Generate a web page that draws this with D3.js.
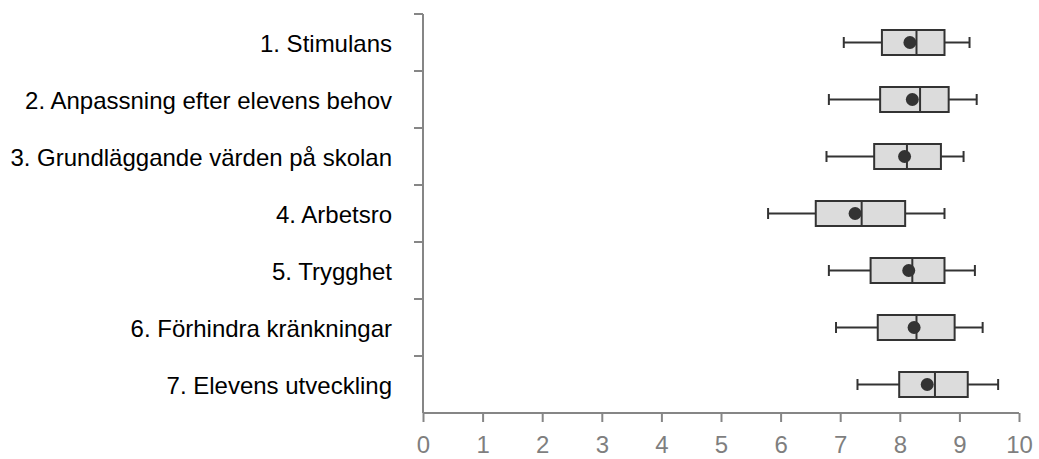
<!DOCTYPE html>
<html lang="sv">
<head>
    <meta charset="UTF-8">
    <title>Boxplot</title>
    <script src="https://d3js.org/d3.v7.min.js"></script>
    <style>
        body { margin: 0; background: #fff; }
        .cat-label { font: 24px "Liberation Sans", Arial, sans-serif; fill: #000; }
        .x-axis text { font: 24px "Liberation Sans", Arial, sans-serif; fill: #7f7f7f; }
        .axis-line { stroke: #868686; stroke-width: 2; }
        .box { fill: #dcdcdc; stroke: #333; stroke-width: 2; }
        .whisker { stroke: #333; stroke-width: 2; }
        .mean { fill: #333; }
    </style>
</head>
<body>
<svg width="1039" height="459"></svg>
<script>
    // data
    const categories = [
        "1. Stimulans",
        "2. Anpassning efter elevens behov",
        "3. Grundläggande värden på skolan",
        "4. Arbetsro",
        "5. Trygghet",
        "6. Förhindra kränkningar",
        "7. Elevens utveckling"
    ];
    const whiskerLow  = [7.06, 6.81, 6.77, 5.79, 6.81, 6.93, 7.29];
    const q1          = [7.70, 7.67, 7.57, 6.59, 7.51, 7.63, 7.99];
    const median      = [8.28, 8.34, 8.12, 7.36, 8.21, 8.28, 8.59];
    const q3          = [8.75, 8.82, 8.69, 8.09, 8.75, 8.92, 9.14];
    const whiskerHigh = [9.17, 9.29, 9.07, 8.75, 9.26, 9.39, 9.65];
    const means       = [8.17, 8.21, 8.08, 7.25, 8.15, 8.24, 8.46];
    const xTicks = [0, 1, 2, 3, 4, 5, 6, 7, 8, 9, 10];

    const rows = categories.map((c, i) => ({
        name: c, lo: whiskerLow[i], q1: q1[i], med: median[i],
        q3: q3[i], hi: whiskerHigh[i], mean: means[i]
    }));

    const svg = d3.select("svg");

    const x = d3.scaleLinear().domain([0, 10]).range([423, 1019]);
    const y = d3.scaleBand().domain(categories).range([14, 413]);

    const boxH = 25, capH = 11;

    // y axis line + ticks at band edges
    svg.append("line").attr("class", "axis-line")
        .attr("x1", x(0)).attr("x2", x(0))
        .attr("y1", y.range()[0]).attr("y2", y.range()[1]);
    svg.append("g").selectAll("line")
        .data(categories)
        .enter().append("line")
        .attr("class", "axis-line")
        .attr("x1", x(0) - 9).attr("x2", x(0))
        .attr("y1", d => y(d)).attr("y2", d => y(d));

    // category labels
    svg.append("g").selectAll("text")
        .data(categories)
        .enter().append("text")
        .attr("class", "cat-label")
        .attr("x", x(0) - 31)
        .attr("y", d => y(d) + y.bandwidth() / 2)
        .attr("dy", "0.38em")
        .attr("text-anchor", "end")
        .text(d => d);

    // x axis
    const xAxis = svg.append("g")
        .attr("class", "x-axis")
        .attr("transform", `translate(0,${y.range()[1]})`)
        .call(d3.axisBottom(x).tickValues(xTicks).tickSize(9).tickPadding(14).tickFormat(d3.format("d")));
    xAxis.select(".domain").attr("stroke", "#868686").attr("stroke-width", 2)
        .attr("d", `M${x(0)},0H${x(10)}`);
    xAxis.selectAll(".tick line").attr("stroke", "#868686").attr("stroke-width", 2);

    // boxes
    const g = svg.append("g").selectAll("g")
        .data(rows)
        .enter().append("g")
        .attr("transform", d => `translate(0,${y(d.name) + y.bandwidth() / 2})`);

    g.append("line").attr("class", "whisker")
        .attr("x1", d => x(d.lo)).attr("x2", d => x(d.q1));
    g.append("line").attr("class", "whisker")
        .attr("x1", d => x(d.q3)).attr("x2", d => x(d.hi));
    g.append("line").attr("class", "whisker")
        .attr("x1", d => x(d.lo)).attr("x2", d => x(d.lo))
        .attr("y1", -capH / 2).attr("y2", capH / 2);
    g.append("line").attr("class", "whisker")
        .attr("x1", d => x(d.hi)).attr("x2", d => x(d.hi))
        .attr("y1", -capH / 2).attr("y2", capH / 2);

    g.append("rect").attr("class", "box")
        .attr("x", d => x(d.q1))
        .attr("y", -boxH / 2)
        .attr("width", d => x(d.q3) - x(d.q1))
        .attr("height", boxH);

    g.append("line").attr("class", "whisker")
        .attr("x1", d => x(d.med)).attr("x2", d => x(d.med))
        .attr("y1", -boxH / 2).attr("y2", boxH / 2);

    g.append("circle").attr("class", "mean")
        .attr("cx", d => x(d.mean))
        .attr("r", 6.5);
</script>
</body>
</html>
